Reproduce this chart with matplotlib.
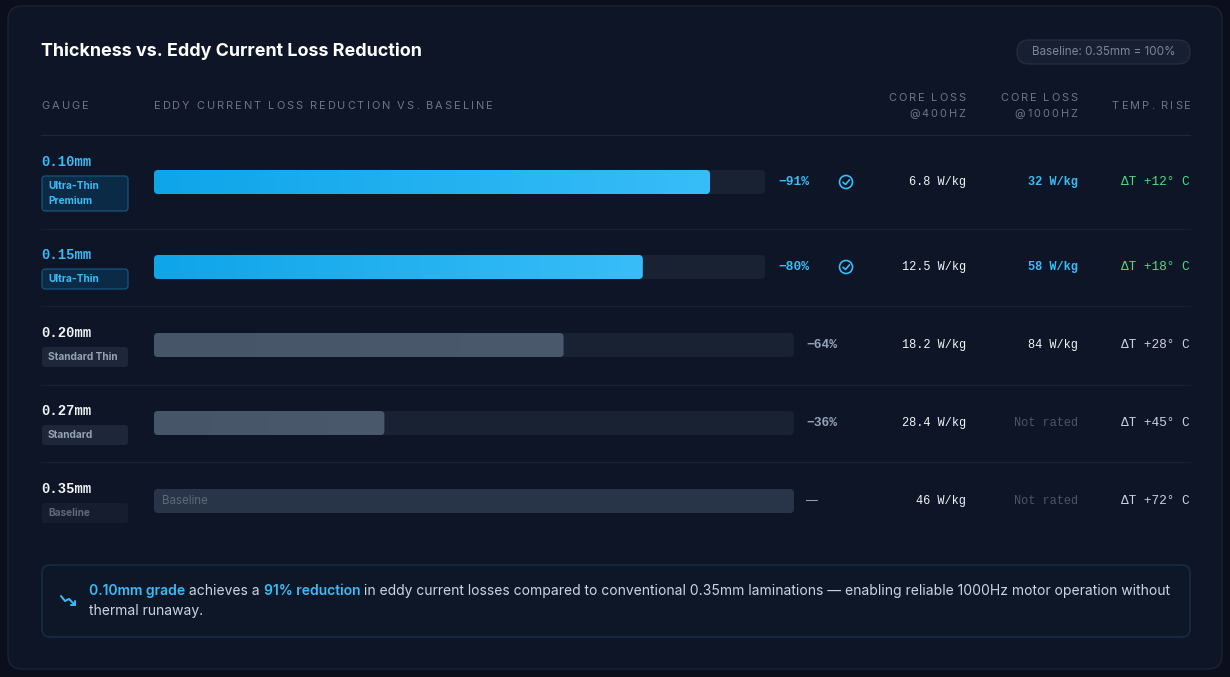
import numpy as np
import matplotlib
matplotlib.use("Agg")
import matplotlib.pyplot as plt
from matplotlib.patches import FancyBboxPatch, Circle
from matplotlib.colors import LinearSegmentedColormap
from matplotlib.font_manager import FontProperties, findfont
from matplotlib.ft2font import FT2Font

# data
gauges = ["0.10mm", "0.15mm", "0.20mm", "0.27mm", "0.35mm"]
grades = ["Ultra-Thin\nPremium", "Ultra-Thin", "Standard Thin", "Standard", "Baseline"]
reduction = [91, 80, 64, 36, 0]          # % eddy current loss reduction vs 0.35mm
loss_400 = [6.8, 12.5, 18.2, 28.4, 46]   # W/kg
loss_1000 = [32, 58, 84, None, None]     # W/kg, None = not rated
temp_rise = [12, 18, 28, 45, 72]         # deg C
recommended = [True, True, False, False, False]

# colours
OUTER = "#0a0f1b"
CARD = "#0d1526"
CARD_EDGE = "#1a2436"
SEP = "#172133"
HEAD = "#6b778a"
CYAN = "#38bdf8"
WHITE = "#f1f5f9"
LIGHT = "#cbd5e1"
GREEN = "#4ade80"
TRACK = "#182233"
BASE_BAR = "#283447"
MUTED = "#4b5566"

SANS = ["Inter", "DejaVu Sans"]
MONO = ["Liberation Mono", "DejaVu Sans Mono"]

W, H = 1230, 677
DPI = 100
fig = plt.figure(figsize=(W / DPI, H / DPI), dpi=DPI, facecolor=OUTER)
ax = fig.add_axes([0, 0, 1, 1])
ax.set_xlim(0, W)
ax.set_ylim(H, 0)
ax.set_autoscale_on(False)
ax.axis("off")
renderer = fig.canvas.get_renderer()


def rbox(x, y, w, h, r, fc, ec="none", lw=1, z=1):
    p = FancyBboxPatch((x, y), w, h, boxstyle=f"round,pad=0,rounding_size={r}",
                       fc=fc, ec=ec, lw=lw, zorder=z)
    ax.add_patch(p)
    return p


head_font = FT2Font(findfont(FontProperties(family=SANS)))


def spaced(x, y, s, size, color, spacing=2.0, ha="left"):
    # letter-spaced label: place glyphs by their advance widths
    head_font.set_size(size, DPI)
    adv, bear = [], []
    for ch in s:
        g = head_font.load_char(ord(ch))
        adv.append(g.linearHoriAdvance / 65536)
        bear.append(g.horiBearingX / 64)
    total = sum(adv) + spacing * (len(s) - 1)
    ox = x - total if ha == "right" else x
    for ch, a, b in zip(s, adv, bear):
        if ch != " ":
            ax.text(ox + b, y, ch, fontsize=size, color=color, family=SANS,
                    va="center", ha="left", zorder=5)
        ox += a + spacing


# card
rbox(8, 6, 1214, 663, 14, CARD, CARD_EDGE, 1, z=0)

# title and pill
ax.text(41, 51, "Thickness vs. Eddy Current Loss Reduction", fontsize=12.9,
        weight="bold", color="white", family=SANS, va="center")
rbox(1017, 40, 173, 24, 12, "#172032", "#222d3f", 1)
ax.text(1103.5, 52, "Baseline: 0.35mm = 100%", fontsize=8.4, color="#7b8698",
        family=SANS, va="center", ha="center")

# column headers
HS = 7.9
spaced(41, 106, "GAUGE", HS, HEAD)
spaced(153, 106, "EDDY CURRENT LOSS REDUCTION VS. BASELINE", HS, HEAD)
spaced(965, 98, "CORE LOSS", HS, HEAD, ha="right")
spaced(965, 114, "@400HZ", HS, HEAD, ha="right")
spaced(1077, 98, "CORE LOSS", HS, HEAD, ha="right")
spaced(1077, 114, "@1000HZ", HS, HEAD, ha="right")
spaced(1190, 106, "TEMP. RISE", HS, HEAD, ha="right")
ax.plot([41, 1190], [135, 135], color="#1c2638", lw=1)

row_y = [182, 267, 345, 423, 501]
sep_y = [229, 306, 385, 462]
for s in sep_y:
    ax.plot([41, 1190], [s, s], color=SEP, lw=1)

bar_x0 = 154
bar_h = 24
cyan_cmap = LinearSegmentedColormap.from_list("cy", ["#0ea5e9", "#38bdf8"])
gray_cmap = LinearSegmentedColormap.from_list("gr", ["#475569", "#4b596d"])

for i, g in enumerate(gauges):
    yc = row_y[i]
    rec = recommended[i]
    base = reduction[i] == 0
    track_end = 765 if rec else 794
    track_w = track_end - bar_x0

    # gauge + grade badge
    two_line = "\n" in grades[i]
    gy = yc - 20 if two_line else yc - 12
    ax.text(41, gy, g, fontsize=10, weight="bold", family=MONO,
            color=CYAN if rec else WHITE, va="center")
    bh = 35 if two_line else 20
    by = gy + 14
    if rec:
        bfc, bec, btc = "#0b2a45", "#185a85", CYAN
    elif base:
        bfc, bec, btc = "#141e2e", "none", "#5d6878"
    else:
        bfc, bec, btc = "#1d2739", "none", "#94a3b8"
    rbox(42, by, 86, bh, 3, bfc, bec, 0.8)
    ax.text(48, by + bh / 2, grades[i], fontsize=7.3, weight="bold", family=SANS,
            color=btc, va="center", linespacing=1.6)

    # track and bar
    rbox(bar_x0, yc - bar_h / 2, track_w, bar_h, 4, BASE_BAR if base else TRACK)
    if base:
        ax.text(bar_x0 + 8, yc, "Baseline", fontsize=8.3, color="#5d6878",
                family=SANS, va="center")
        ax.text(806, yc, "\u2014", fontsize=8.5, color="#94a3b8", family=SANS, va="center")
    else:
        fill_w = track_w * reduction[i] / 100
        p = rbox(bar_x0, yc - bar_h / 2, fill_w, bar_h, 4, "none", z=2)
        grad = np.linspace(0, 1, 256).reshape(1, -1)
        im = ax.imshow(grad, extent=[bar_x0, bar_x0 + fill_w, yc + bar_h / 2, yc - bar_h / 2],
                       cmap=cyan_cmap if rec else gray_cmap, aspect="auto", zorder=2)
        im.set_clip_path(p)
        ax.text(track_end + 13 if rec else 806, yc, f"\u2212{reduction[i]}%", fontsize=9.3,
                weight="bold", family=MONO, color=CYAN if rec else "#94a3b8", va="center")

    if rec:
        ax.add_patch(Circle((846, yc), 6.5, fc="none", ec=CYAN, lw=1.2, zorder=4))
        ax.plot([843, 845.5, 849.5], [yc + 0.3, yc + 2.5, yc - 2.2], color=CYAN,
                lw=1.2, solid_capstyle="round", zorder=5)

    # numbers
    l4 = f"{loss_400[i]:g} W/kg"
    ax.text(966, yc, l4, fontsize=8.6, family=MONO, color=WHITE, va="center", ha="right")
    if loss_1000[i] is None:
        ax.text(1078, yc, "Not rated", fontsize=8.6, family=MONO, color=MUTED,
                va="center", ha="right")
    else:
        ax.text(1078, yc, f"{loss_1000[i]} W/kg", fontsize=8.6, family=MONO,
                color=CYAN if rec else WHITE, weight="bold" if rec else "normal",
                va="center", ha="right")
    ax.text(1190, yc, f"\u0394T +{temp_rise[i]}\u00b0 C", fontsize=9.2, family=MONO,
            color=GREEN if rec else LIGHT, va="center", ha="right")

# callout
rbox(42, 565, 1148, 72, 8, "#0d1728", "#173048", 1)
ax.plot([61, 65, 69, 75], [596, 601, 599, 605], color=CYAN, lw=1.4,
        solid_capstyle="round", solid_joinstyle="round")
ax.plot([71, 75, 75], [605, 605, 601], color=CYAN, lw=1.4, solid_capstyle="round")

segments = [
    ("0.10mm grade", CYAN, "semibold"),
    (" achieves a ", LIGHT, "normal"),
    ("91% reduction", CYAN, "semibold"),
    (" in eddy current losses compared to conventional 0.35mm laminations \u2014 "
     "enabling reliable 1000Hz motor operation without", LIGHT, "normal"),
]
cx = 89
for txt, col, wt in segments:
    t = ax.text(cx, 591, txt, fontsize=10, color=col, family=SANS, weight=wt,
                va="center")
    cx = t.get_window_extent(renderer).x1
ax.text(89, 611, "thermal runaway.", fontsize=10, color=LIGHT, family=SANS, va="center")

fig.savefig("out.png", dpi=DPI, facecolor=OUTER)
